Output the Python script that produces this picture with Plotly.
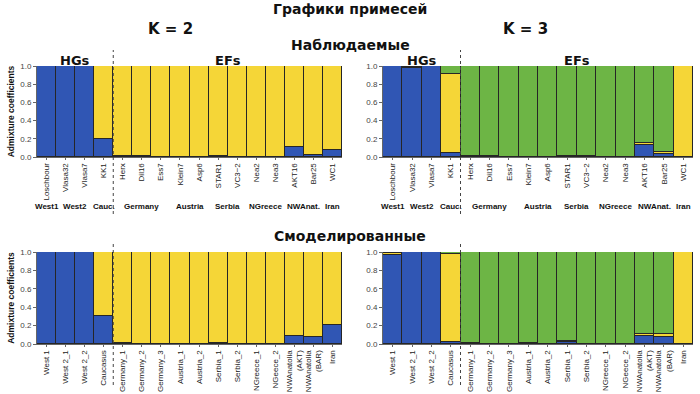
import plotly.graph_objects as go

# ---------------- data ----------------
obs_labels = ["Loschbour", "Vlasa32", "Vlasa7", "KK1", "Herx", "Dil16", "Ess7", "Klein7",
              "Asp6", "STAR1", "VC3\u22122", "Nea2", "Nea3", "AKT16", "Bar25", "WC1"]
sim_labels = ["West 1", "West 2_1", "West 2_2", "Caucasus", "Germany_1", "Germany_2",
              "Germany_3", "Austria_1", "Austria_2", "Serbia_1", "Serbia_2", "NGreece_1",
              "NGeece_2", "NWAnatolia<br>(AKT)", "NWAnatolia<br>(BAR)", "Iran"]

# K=2 observed
obs_k2_blue = [1.0, 1.0, 1.0, 0.20, 0.01, 0.01, 0.0, 0.0, 0.0, 0.006, 0.005, 0.0, 0.0, 0.11, 0.02, 0.08]
obs_k2_yellow = [1 - v for v in obs_k2_blue]

# K=3 observed
obs_k3_blue = [1.0, 0.98, 1.0, 0.04, 0.015, 0.015, 0.0, 0.0, 0.0, 0.01, 0.01, 0.0, 0.0, 0.13, 0.03, 0.0]
obs_k3_yellow = [0.0, 0.01, 0.0, 0.87, 0.0, 0.0, 0.0, 0.0, 0.0, 0.006, 0.0, 0.0, 0.0, 0.02, 0.02, 1.0]
obs_k3_green = [0.0, 0.01, 0.0, 0.09, 0.985, 0.985, 1.0, 1.0, 1.0, 0.984, 0.99, 1.0, 1.0, 0.85, 0.95, 0.0]

# K=2 simulated
sim_k2_blue = [1.0, 1.0, 1.0, 0.30, 0.01, 0.0, 0.0, 0.0, 0.0, 0.01, 0.0, 0.0, 0.0, 0.09, 0.08, 0.21]
sim_k2_yellow = [1 - v for v in sim_k2_blue]

# K=3 simulated
sim_k3_blue = [0.97, 1.0, 1.0, 0.02, 0.01, 0.005, 0.005, 0.01, 0.0, 0.02, 0.0, 0.0, 0.0, 0.09, 0.08, 0.0]
sim_k3_yellow = [0.015, 0.0, 0.0, 0.96, 0.0, 0.0, 0.0, 0.005, 0.0, 0.01, 0.0, 0.0, 0.0, 0.02, 0.03, 1.0]
sim_k3_green = [0.015, 0.0, 0.0, 0.02, 0.99, 0.995, 0.995, 0.985, 1.0, 0.97, 1.0, 1.0, 1.0, 0.89, 0.89, 0.0]

group_names = ["West1", "West2", "Cauc.", "Germany", "Austria", "Serbia", "NGreece", "NWAnat.", "Iran"]
group_pos = [0, 1.5, 3, 5, 7.5, 9.5, 11.5, 13.5, 15]

y_ticks = [0.0, 0.2, 0.4, 0.6, 0.8, 1.0]

# ---------------- style ----------------
BLUE = "#3056b4"
YELLOW = "#f5d637"
GREEN = "#6db545"
EDGE = "#262626"
W, H = 700, 394


def py(pix):
    return 1 - pix / H


fig = go.Figure()
xs = list(range(16))

panels = [
    ("x", "y", [(obs_k2_blue, BLUE), (obs_k2_yellow, YELLOW)]),
    ("x2", "y2", [(obs_k3_blue, BLUE), (obs_k3_yellow, YELLOW), (obs_k3_green, GREEN)]),
    ("x3", "y3", [(sim_k2_blue, BLUE), (sim_k2_yellow, YELLOW)]),
    ("x4", "y4", [(sim_k3_blue, BLUE), (sim_k3_yellow, YELLOW), (sim_k3_green, GREEN)]),
]
for xa, ya, series in panels:
    for vals, col in series:
        fig.add_trace(go.Bar(x=xs, y=vals, xaxis=xa, yaxis=ya, marker_color=col,
                             marker_line=dict(color=EDGE, width=1), width=1.0,
                             showlegend=False, hoverinfo="skip"))

xdom_left = [37 / W, 342 / W]
xdom_right = [383 / W, 693 / W]
ydom_top = [py(157), py(66)]
ydom_bot = [py(344), py(252)]

tickfont = dict(family="Liberation Sans, Arial", size=8, color="#222")


def xaxis(dom, anchor, labels):
    return dict(domain=dom, anchor=anchor, range=[-0.5, 15.5], tickvals=xs, ticktext=labels,
                tickangle=-90, tickfont=tickfont, showline=True, linecolor="#666", linewidth=1,
                ticks="outside", ticklen=2, tickcolor="#666", showgrid=False, zeroline=False,
                fixedrange=True, automargin=False)


def yaxis(dom, anchor, title):
    d = dict(domain=dom, anchor=anchor, range=[0, 1.0], tickvals=y_ticks,
             ticktext=["%.1f" % v for v in y_ticks], tickfont=dict(family="Liberation Sans, Arial", size=8, color="#444"),
             showline=True, linecolor="#666", linewidth=1, ticks="outside", ticklen=3,
             tickcolor="#666", showgrid=False, zeroline=False, fixedrange=True, automargin=False)
    if title:
        d["title"] = dict(text="<b>Admixture coefficients</b>",
                          font=dict(family="Liberation Sans, Arial", size=8.5, color="#111"), standoff=4)
    return d


fig.update_layout(
    width=W, height=H, margin=dict(l=0, r=0, t=0, b=0, autoexpand=False),
    paper_bgcolor="white", plot_bgcolor="white",
    barmode="stack", bargap=0,
    xaxis=xaxis(xdom_left, "y", obs_labels),
    yaxis=yaxis(ydom_top, "x", True),
    xaxis2=xaxis(xdom_right, "y2", obs_labels),
    yaxis2=yaxis(ydom_top, "x2", False),
    xaxis3=xaxis(xdom_left, "y3", sim_labels),
    yaxis3=yaxis(ydom_bot, "x3", True),
    xaxis4=xaxis(xdom_right, "y4", sim_labels),
    yaxis4=yaxis(ydom_bot, "x4", False),
)

title_font = "DejaVu Sans"
C = dict(xanchor="center", yanchor="middle", showarrow=False)
ann = []
ann.append(dict(text="<b>Графики примесей</b>", x=0.5, y=py(9), xref="paper", yref="paper",
                font=dict(family=title_font, size=14, color="#111"), **C))
ann.append(dict(text="<b>K = 2</b>", x=170 / W, y=py(29), xref="paper", yref="paper",
                font=dict(family=title_font, size=15, color="#111"), **C))
ann.append(dict(text="<b>K = 3</b>", x=525 / W, y=py(29), xref="paper", yref="paper",
                font=dict(family=title_font, size=15, color="#111"), **C))
ann.append(dict(text="<b>Наблюдаемые</b>", x=0.5, y=py(45), xref="paper", yref="paper",
                font=dict(family=title_font, size=14, color="#111"), **C))
ann.append(dict(text="<b>Смоделированные</b>", x=0.5, y=py(236), xref="paper", yref="paper",
                font=dict(family=title_font, size=14, color="#111"), **C))

for xa in ["x", "x2"]:
    ann.append(dict(text="<b>HGs</b>", x=1.5, y=py(60), xref=xa, yref="paper",
                    font=dict(family=title_font, size=13, color="#111"), **C))
    ann.append(dict(text="<b>EFs</b>", x=9.5, y=py(60), xref=xa, yref="paper",
                    font=dict(family=title_font, size=13, color="#111"), **C))
    for name, pos in zip(group_names, group_pos):
        ann.append(dict(text="<b>%s</b>" % name, x=pos, y=py(206), xref=xa, yref="paper",
                        font=dict(family="Liberation Sans, Arial", size=8, color="#111"), **C))

fig.update_layout(annotations=ann)

shapes = []
for xa, y0, y1 in [("x", 50, 214), ("x2", 50, 214), ("x3", 242, 385), ("x4", 242, 385)]:
    shapes.append(dict(type="line", xref=xa, yref="paper", x0=3.5, x1=3.5, y0=py(y1), y1=py(y0),
                       line=dict(color="#444", width=1, dash="dot")))
fig.update_layout(shapes=shapes)

fig.write_html("out.html", config={"displayModeBar": False},
               post_script="document.body.style.margin='0';document.body.style.padding='0';")
